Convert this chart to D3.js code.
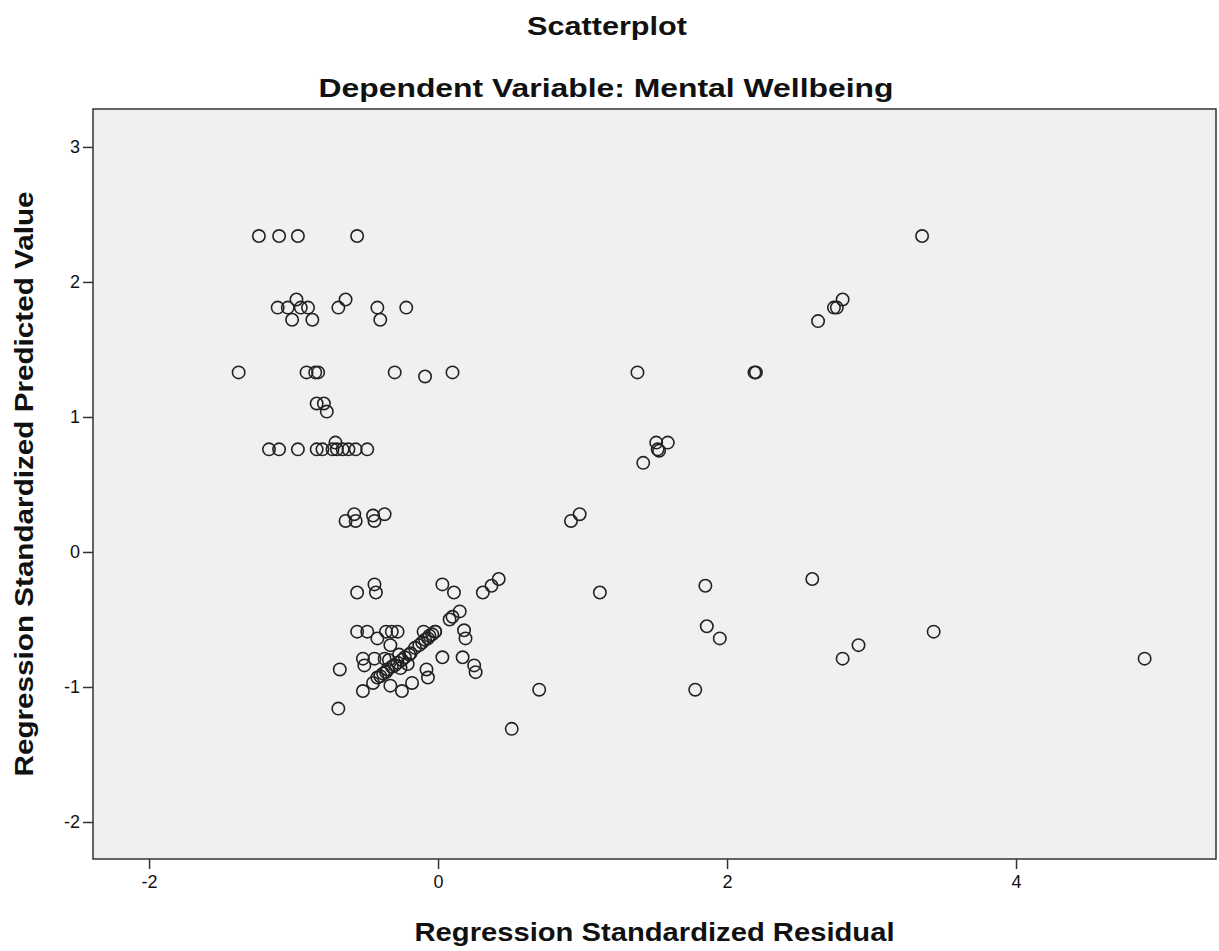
<!DOCTYPE html>
<html>
<head>
<meta charset="utf-8">
<script src="https://cdn.jsdelivr.net/npm/d3@7"></script>
<style>
  html, body { margin: 0; padding: 0; background: #fff; }
  svg { display: block; }
  text { font-family: "Liberation Sans", Arial, sans-serif; fill: #111; }
</style>
</head>
<body>
<svg id="chart" width="1219" height="951"></svg>
<script>
const titleText = "Scatterplot";
const subtitleText = "Dependent Variable: Mental Wellbeing";
const xLabel = "Regression Standardized Residual";
const yLabel = "Regression Standardized Predicted Value";

const xTicks = [-2, 0, 2, 4];
const yTicks = [-2, -1, 0, 1, 2, 3];
const xDomain = [-2.388, 5.384];
const yDomain = [-2.274, 3.281];

// Regression standardized residual (x) for each case
const residual = [
  -1.24, -1.10, -0.97, -0.56, 3.35,
  -1.11, -1.04, -0.98, -0.95, -0.90, -1.01, -0.87, -0.69, -0.64, -0.42, -0.40, -0.22,
  2.63, 2.74, 2.76, 2.80,
  -1.38, -0.91, -0.85, -0.83, -0.30, -0.09, 0.10, 1.38, 2.19, 2.20,
  -0.84, -0.79, -0.77,
  -1.17, -1.10, -0.97, -0.84, -0.80, -0.73, -0.71, -0.70, -0.66, -0.62, -0.57, -0.49,
  1.51, 1.59, 1.52, 1.53, 1.42,
  -0.64, -0.58, -0.57, -0.45, -0.44, -0.37, 0.92, 0.98,
  -0.56, -0.44, -0.43, 0.03, 0.11, 0.31, 0.37, 0.42, 1.12, 1.85, 2.59,
  0.15, 0.10, 0.08, 0.18, 0.19,
  -0.56, -0.49, -0.36, -0.32, -0.28, -0.42, -0.33, -0.10, -0.02, -0.07,
  1.86, 1.95, 3.43,
  -0.52, -0.45, -0.42, -0.38, -0.35, -0.32, -0.28, -0.25, -0.23, -0.19, -0.16, -0.13, -0.09, -0.06, -0.02,
  -0.40, -0.30, -0.20, -0.36, -0.11, -0.04, -0.34, -0.26, -0.27, -0.21,
  -0.68, -0.69, -0.52, -0.51, -0.44, -0.37, -0.33, -0.25, -0.18, -0.08, -0.07, 0.03, 0.17, 0.25, 0.26,
  0.51, 0.70, 1.78, 2.80, 2.91, 4.89
];

// Regression standardized predicted value (y) for each case
const predicted = [
  2.34, 2.34, 2.34, 2.34, 2.34,
  1.81, 1.81, 1.87, 1.81, 1.81, 1.72, 1.72, 1.81, 1.87, 1.81, 1.72, 1.81,
  1.71, 1.81, 1.81, 1.87,
  1.33, 1.33, 1.33, 1.33, 1.33, 1.30, 1.33, 1.33, 1.33, 1.33,
  1.10, 1.10, 1.04,
  0.76, 0.76, 0.76, 0.76, 0.76, 0.76, 0.81, 0.76, 0.76, 0.76, 0.76, 0.76,
  0.81, 0.81, 0.76, 0.75, 0.66,
  0.23, 0.28, 0.23, 0.27, 0.23, 0.28, 0.23, 0.28,
  -0.30, -0.24, -0.30, -0.24, -0.30, -0.30, -0.25, -0.20, -0.30, -0.25, -0.20,
  -0.44, -0.48, -0.50, -0.58, -0.64,
  -0.59, -0.59, -0.59, -0.59, -0.59, -0.64, -0.69, -0.59, -0.59, -0.64,
  -0.55, -0.64, -0.59,
  -1.03, -0.97, -0.93, -0.90, -0.87, -0.85, -0.82, -0.80, -0.78, -0.75, -0.71, -0.69, -0.65, -0.62, -0.59,
  -0.92, -0.84, -0.76, -0.89, -0.67, -0.61, -0.80, -0.86, -0.76, -0.83,
  -0.87, -1.16, -0.79, -0.84, -0.79, -0.79, -0.99, -1.03, -0.97, -0.87, -0.93, -0.78, -0.78, -0.84, -0.89,
  -1.31, -1.02, -1.02, -0.79, -0.69, -0.79
];

const plot = { left: 93, right: 1216, top: 109, bottom: 859 };

const svg = d3.select("#chart");

const x = d3.scaleLinear().domain(xDomain).range([plot.left, plot.right]);
const y = d3.scaleLinear().domain(yDomain).range([plot.bottom, plot.top]);

// plot background
svg.append("rect")
  .attr("x", plot.left).attr("y", plot.top)
  .attr("width", plot.right - plot.left).attr("height", plot.bottom - plot.top)
  .attr("fill", "#f0f0f0");

// points
const points = residual.map((r, i) => ({ r: r, p: predicted[i] }));
svg.append("g")
  .selectAll("circle")
  .data(points)
  .join("circle")
  .attr("cx", d => x(d.r))
  .attr("cy", d => y(d.p))
  .attr("r", 6.2)
  .attr("fill", "none")
  .attr("stroke", "#222")
  .attr("stroke-width", 1.6);

// frame
svg.append("rect")
  .attr("x", plot.left).attr("y", plot.top)
  .attr("width", plot.right - plot.left).attr("height", plot.bottom - plot.top)
  .attr("fill", "none")
  .attr("stroke", "#333")
  .attr("stroke-width", 1.5);

// axes
const xAxis = svg.append("g")
  .attr("transform", `translate(0,${plot.bottom})`)
  .call(d3.axisBottom(x).tickValues(xTicks).tickSize(10).tickPadding(6).tickFormat(d3.format("d")));
const yAxis = svg.append("g")
  .attr("transform", `translate(${plot.left},0)`)
  .call(d3.axisLeft(y).tickValues(yTicks).tickSize(10).tickPadding(3).tickFormat(d3.format("d")));

[xAxis, yAxis].forEach(a => {
  a.select(".domain").remove();
  a.selectAll(".tick line").attr("stroke", "#333").attr("stroke-width", 1.5);
  a.selectAll(".tick text")
    .attr("fill", "#222")
    .style("font-family", "'Liberation Sans', Arial, sans-serif")
    .style("font-size", "18px");
});
// d3.format("d") uses the unicode minus; match the reference's hyphen
svg.selectAll(".tick text").text(function () { return this.textContent.replace("\u2212", "-"); });

// titles
svg.append("text")
  .attr("x", 607).attr("y", 35)
  .attr("text-anchor", "middle")
  .attr("font-weight", "bold").attr("font-size", 26)
  .attr("textLength", 160).attr("lengthAdjust", "spacingAndGlyphs")
  .text(titleText);

svg.append("text")
  .attr("x", 606).attr("y", 97)
  .attr("text-anchor", "middle")
  .attr("font-weight", "bold").attr("font-size", 26)
  .attr("textLength", 575).attr("lengthAdjust", "spacingAndGlyphs")
  .text(subtitleText);

svg.append("text")
  .attr("x", (plot.left + plot.right) / 2).attr("y", 941)
  .attr("text-anchor", "middle")
  .attr("font-weight", "bold").attr("font-size", 26)
  .attr("textLength", 480).attr("lengthAdjust", "spacingAndGlyphs")
  .text(xLabel);

svg.append("text")
  .attr("transform", `translate(33,${(plot.top + plot.bottom) / 2}) rotate(-90)`)
  .attr("text-anchor", "middle")
  .attr("font-weight", "bold").attr("font-size", 26)
  .attr("textLength", 585).attr("lengthAdjust", "spacingAndGlyphs")
  .text(yLabel);
</script>
</body>
</html>
